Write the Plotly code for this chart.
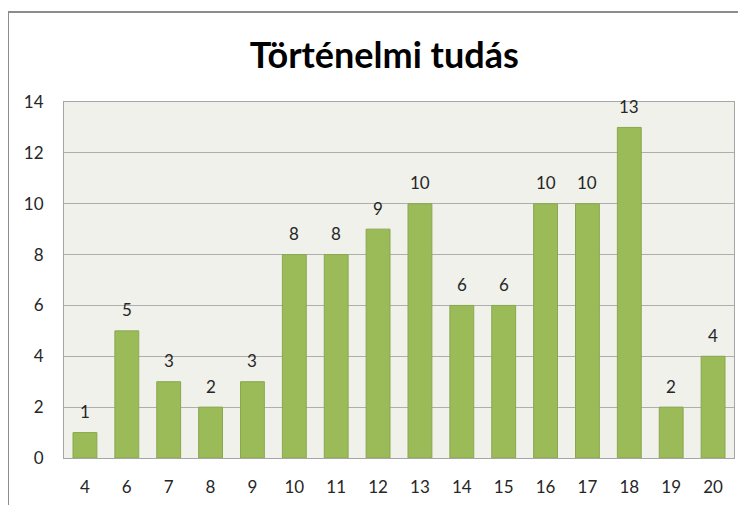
import plotly.graph_objects as go

categories = ["4", "6", "7", "8", "9", "10", "11", "12", "13", "14", "15", "16", "17", "18", "19", "20"]
values = [1, 5, 3, 2, 3, 8, 8, 9, 10, 6, 6, 10, 10, 13, 2, 4]
y_ticks = [0, 2, 4, 6, 8, 10, 12, 14]

FONT = "Lato, Open Sans, sans-serif"

fig = go.Figure(go.Bar(
    x=categories, y=values,
    marker=dict(color="#9BBB59", line=dict(color="#8AA74F", width=1)),
    cliponaxis=False,
))

# category axis positions are the category indices
annotations = [
    dict(x=i, y=v, xref="x", yref="y", text=str(v), showarrow=False,
         yanchor="middle", yshift=21, font=dict(family=FONT, size=17, color="#262626"))
    for i, v in enumerate(values)
]

fig.update_layout(
    width=746, height=505,
    margin=dict(l=56, r=20, t=94, b=55),
    paper_bgcolor="white", plot_bgcolor="#EFF1EA",
    bargap=0.43,
    showlegend=False,
    title=dict(text="<b>Történelmi tudás</b>", xref="paper", x=0.478, xanchor="center",
               y=0.907, yanchor="middle",
               font=dict(family=FONT, size=36, color="#000000")),
    xaxis=dict(type="category", categoryorder="array", categoryarray=categories,
               range=[-0.5, len(categories) - 0.5],
               showgrid=False, ticks="", showline=True, linecolor="#A6A6A6", mirror=True,
               ticklabelstandoff=14,
               tickfont=dict(family=FONT, size=17, color="#262626")),
    yaxis=dict(range=[0, 14], tickvals=y_ticks, showgrid=True, gridcolor="#AEAEAE", gridwidth=1,
               showline=True, linecolor="#A6A6A6", mirror=True, zeroline=False, ticks="",
               ticklabelstandoff=16,
               tickfont=dict(family=FONT, size=17, color="#262626")),
    annotations=annotations,
    shapes=[
        dict(type="line", xref="paper", yref="paper", x0=-0.0836, x1=1.04, y0=1.2528, y1=1.2528,
             line=dict(color="#8C8C8C", width=2)),
        dict(type="line", xref="paper", yref="paper", x0=-0.0836, x1=-0.0836, y0=1.2528, y1=-0.2,
             line=dict(color="#8C8C8C", width=2)),
    ],
)

fig.write_html("out.html")
